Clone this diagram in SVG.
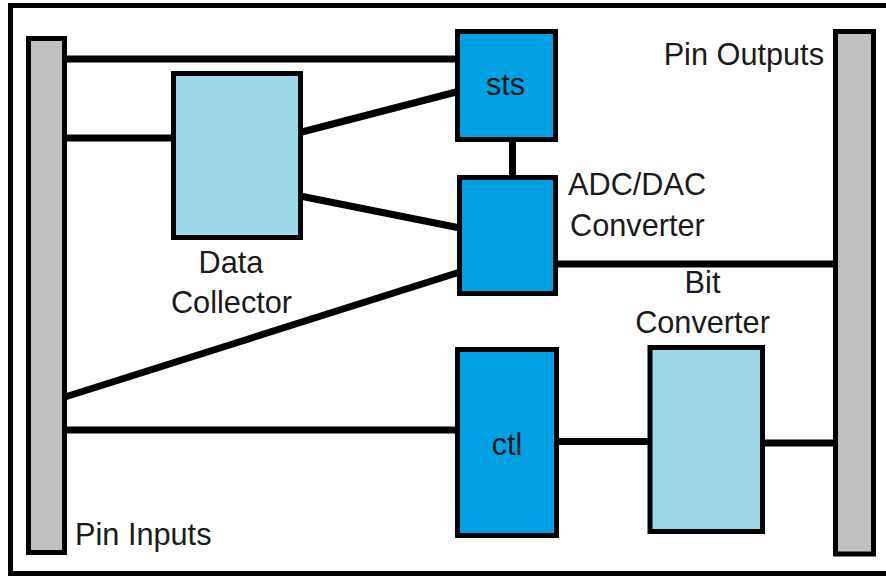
<svg xmlns="http://www.w3.org/2000/svg" width="886" height="577" viewBox="0 0 886 577">
  <style>
    .frame { fill: #ffffff; stroke: #000000; stroke-width: 5; }
    .bar { fill: #c0c0c0; stroke: #000000; stroke-width: 5; }
    .core { fill: #00a1e4; stroke: #000000; stroke-width: 5; }
    .aux { fill: #9dd9ea; stroke: #000000; stroke-width: 5; }
    .wire { stroke: #000000; stroke-width: 7; fill: none; }
    .label { font-family: "Liberation Sans", Arial, sans-serif; font-size: 30.7px; fill: #1a1a1a; }
  </style>

  <!-- board outline -->
  <rect class="frame" x="10.5" y="5.5" width="885" height="568"/>

  <!-- connectors -->
  <g id="connectors">
    <line class="wire" x1="64" y1="59" x2="458" y2="59"/>
    <line class="wire" x1="64" y1="138" x2="174" y2="138"/>
    <line class="wire" x1="298" y1="133" x2="460" y2="91"/>
    <line class="wire" x1="300" y1="196" x2="460" y2="228"/>
    <line class="wire" x1="65" y1="397" x2="460" y2="272"/>
    <line class="wire" x1="512.5" y1="140" x2="512.5" y2="180"/>
    <line class="wire" x1="556" y1="264" x2="836" y2="264"/>
    <line class="wire" x1="64" y1="430" x2="458" y2="430"/>
    <line class="wire" x1="557" y1="441.5" x2="652" y2="441.5"/>
    <line class="wire" x1="762" y1="443" x2="836" y2="443"/>
  </g>

  <g id="pin-inputs">
    <rect class="bar" x="28.5" y="38.5" width="36" height="514"/>
    <text class="label" x="75" y="545">Pin Inputs</text>
  </g>

  <g id="pin-outputs">
    <rect class="bar" x="835.5" y="31.5" width="38" height="522.5"/>
    <text class="label" x="824" y="65" text-anchor="end">Pin Outputs</text>
  </g>

  <g id="data-collector">
    <rect class="aux" x="173.5" y="73.5" width="127" height="164"/>
    <text class="label" x="231" y="273" text-anchor="middle">Data</text>
    <text class="label" x="231.5" y="313" text-anchor="middle">Collector</text>
  </g>

  <g id="sts">
    <rect class="core" x="457.5" y="31.5" width="98" height="108"/>
    <text class="label" x="505.5" y="95" text-anchor="middle">sts</text>
  </g>

  <g id="adc-dac">
    <rect class="core" x="459.5" y="177.5" width="96" height="116"/>
    <text class="label" x="568" y="195">ADC/DAC</text>
    <text class="label" x="570" y="236">Converter</text>
  </g>

  <g id="ctl">
    <rect class="core" x="457.5" y="349.5" width="99" height="186"/>
    <text class="label" x="507" y="455" text-anchor="middle">ctl</text>
  </g>

  <g id="bit-converter">
    <rect class="aux" x="650" y="347.5" width="112.5" height="184"/>
    <text class="label" x="702.5" y="293" text-anchor="middle">Bit</text>
    <text class="label" x="702.5" y="333" text-anchor="middle">Converter</text>
  </g>
</svg>
